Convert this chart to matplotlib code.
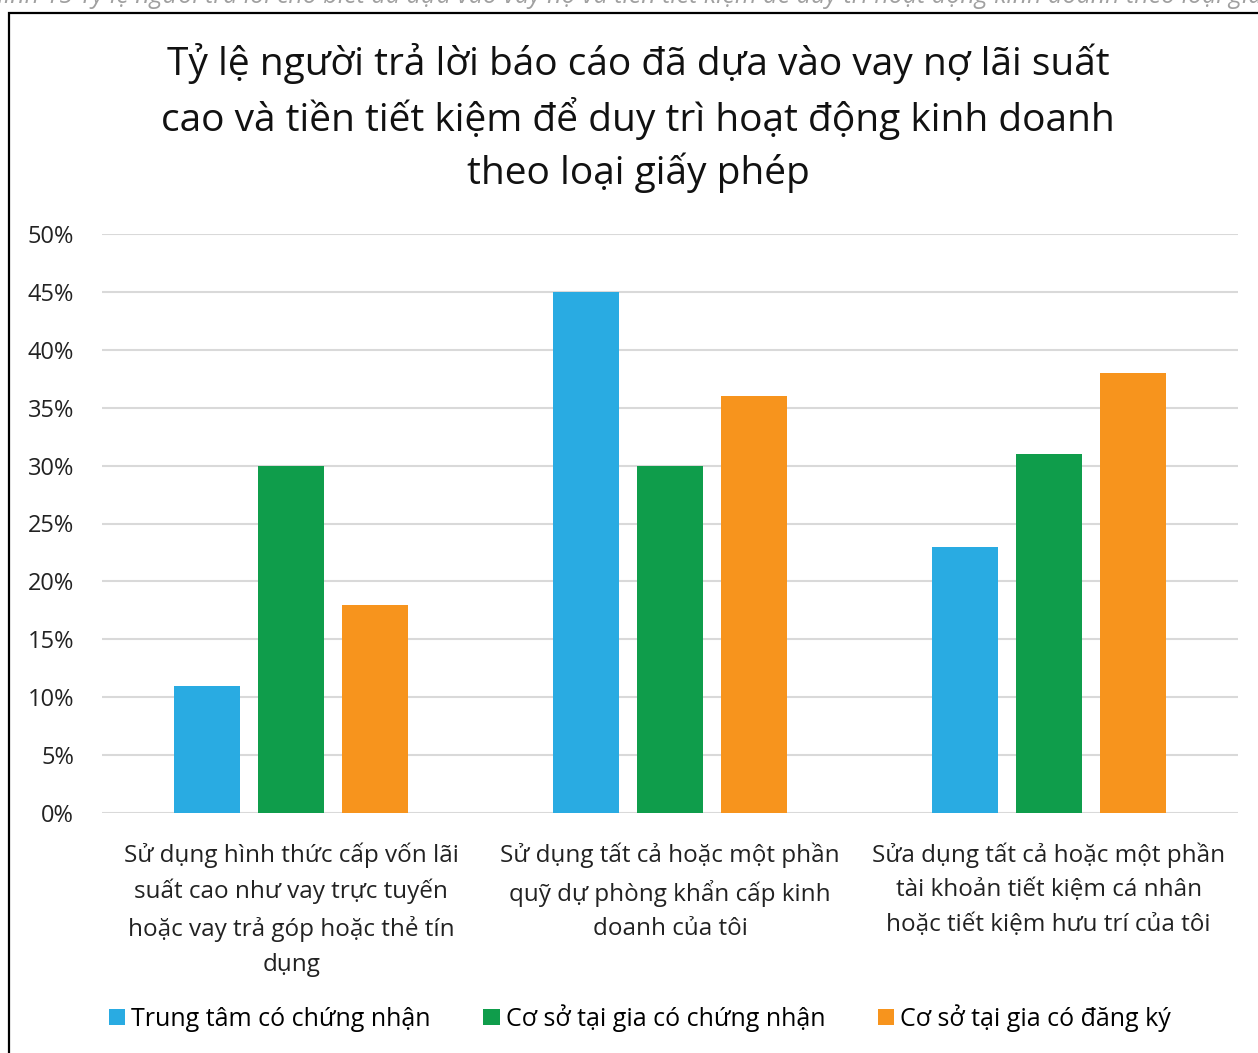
import numpy as np
import matplotlib
matplotlib.use("Agg")
import matplotlib.pyplot as plt
from matplotlib.patches import Rectangle

plt.rcParams['font.family'] = ['Open Sans', 'DejaVu Sans']

# data
categories = [
    "Sử dụng hình thức cấp vốn lãi\nsuất cao như vay trực tuyến\nhoặc vay trả góp hoặc thẻ tín\ndụng",
    "Sử dụng tất cả hoặc một phần\nquỹ dự phòng khẩn cấp kinh\ndoanh của tôi",
    "Sửa dụng tất cả hoặc một phần\ntài khoản tiết kiệm cá nhân\nhoặc tiết kiệm hưu trí của tôi",
]
series_names = ["Trung tâm có chứng nhận", "Cơ sở tại gia có chứng nhận", "Cơ sở tại gia có đăng ký"]
trung_tam = [11, 45, 23]
tai_gia_chung_nhan = [30, 30, 31]
tai_gia_dang_ky = [18, 36, 38]
colors = ["#29ABE2", "#0F9D4B", "#F7941D"]

title = ("Tỷ lệ người trả lời báo cáo đã dựa vào vay nợ lãi suất\n"
         "cao và tiền tiết kiệm để duy trì hoạt động kinh doanh\n"
         "theo loại giấy phép")
caption = ("Hình 15 Tỷ lệ người trả lời cho biết đã dựa vào vay nợ và tiền tiết kiệm "
           "để duy trì hoạt động kinh doanh theo loại giấy phép")

W, H = 1258, 1053
fig = plt.figure(figsize=(W / 100, H / 100), dpi=100)

# axes placed in pixel terms
left, right, top, bottom = 102, 1238, 234, 813
ax = fig.add_axes([left / W, 1 - bottom / H, (right - left) / W, (bottom - top) / H])

x = np.arange(len(categories))
width = 0.174
step = 0.222
all_series = [trung_tam, tai_gia_chung_nhan, tai_gia_dang_ky]
for i, (vals, name, c) in enumerate(zip(all_series, series_names, colors)):
    ax.bar(x + (i - 1) * step, vals, width, color=c, label=name, zorder=3)

ax.set_xlim(-0.5, 2.5)
ax.set_ylim(0, 50)
ax.set_yticks(range(0, 51, 5))
ax.set_yticklabels([f"{v}%" for v in range(0, 51, 5)], fontsize=17, color="#222222")
ax.set_xticks(x)
ax.set_xticklabels(categories, fontsize=17.5, color="#222222", linespacing=1.58)
ax.tick_params(axis='both', length=0)
ax.tick_params(axis='y', pad=20)
ax.tick_params(axis='x', pad=21)
ax.grid(axis='y', color="#d9d9d9", linewidth=1.5, zorder=0)
for s in ax.spines.values():
    s.set_visible(False)

fig.text(638 / W, 1 - 118 / H, title, ha='center', va='center', fontsize=28,
         linespacing=1.38, color="#111111")

leg = fig.legend(loc='center', bbox_to_anchor=(640 / W, 1 - 1018 / H), ncol=3,
                 frameon=False, fontsize=18, handlelength=0.65, handleheight=0.65,
                 handletextpad=0.25, columnspacing=2.1)

# cut off caption above the chart box
fig.text(-0.01, 1 - 3 / H, caption, ha='left', va='baseline', fontsize=18,
         style='italic', color="#a0a0a0")

# chart border
fig.patches.append(Rectangle((9 / W, -0.1), 1.2, 1 - 13 / H + 0.1, transform=fig.transFigure,
                             fill=False, edgecolor='black', linewidth=1.6))

fig.savefig("out.png", dpi=100)
